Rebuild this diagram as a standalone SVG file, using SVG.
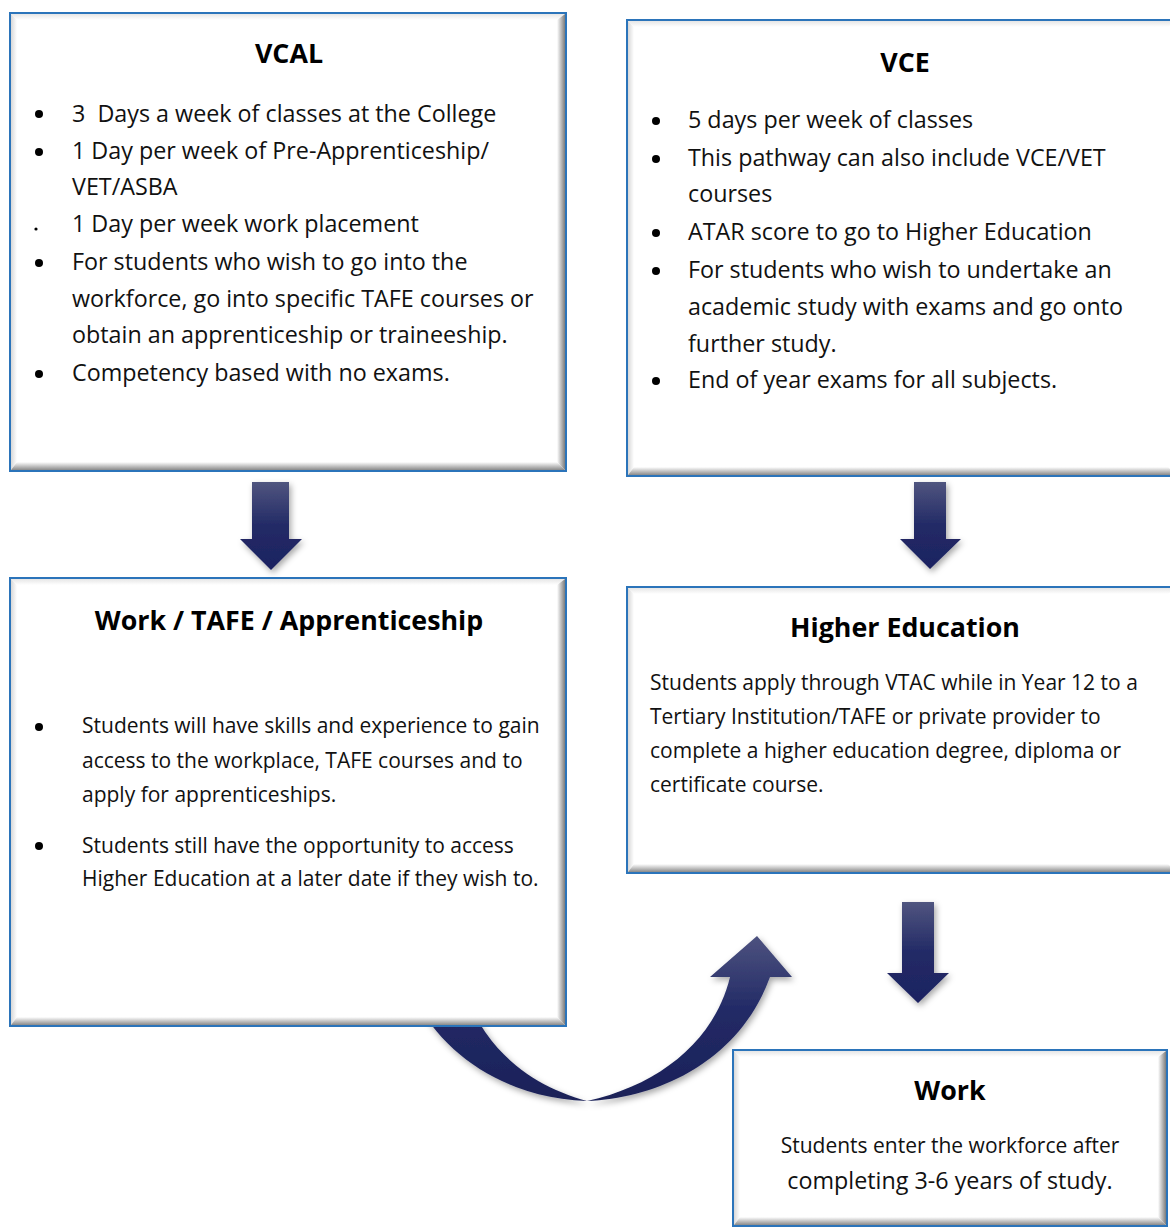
<svg xmlns="http://www.w3.org/2000/svg" width="1170" height="1227" viewBox="0 0 1170 1227">
<defs>
<style>
.box{fill:#ffffff;stroke:#2b74ba;stroke-width:2}
.bb{fill:url(#bevB)}.br{fill:url(#bevR)}.bl{fill:url(#bevL)}.bt{fill:url(#bevT)}
.t{font-family:"Open Sans","Liberation Sans",sans-serif;font-size:23.3px;fill:#111}
.s{font-size:21px}
.h{font-family:"Open Sans","Liberation Sans",sans-serif;font-size:26.8px;font-weight:bold;fill:#000;text-anchor:middle}
.dot{fill:#000}
.arr{fill:url(#arrG);filter:url(#sh)}
</style>
<linearGradient id="bevB" x1="0" y1="0" x2="0" y2="1"><stop offset="0" stop-color="#ffffff"/><stop offset="1" stop-color="#8a8a8a"/></linearGradient>
<linearGradient id="bevR" x1="0" y1="0" x2="1" y2="0"><stop offset="0" stop-color="#ffffff"/><stop offset="1" stop-color="#7c7c7c"/></linearGradient>
<linearGradient id="bevL" x1="0" y1="0" x2="1" y2="0"><stop offset="0" stop-color="#d8d8d8"/><stop offset="1" stop-color="#ffffff"/></linearGradient>
<linearGradient id="bevT" x1="0" y1="0" x2="0" y2="1"><stop offset="0" stop-color="#e6e6e6"/><stop offset="1" stop-color="#ffffff"/></linearGradient>
<linearGradient id="arrG" x1="0" y1="0" x2="0" y2="1"><stop offset="0" stop-color="#50557f"/><stop offset="0.5" stop-color="#222a66"/><stop offset="1" stop-color="#1d2361"/></linearGradient>
<linearGradient id="curG" gradientUnits="userSpaceOnUse" x1="0" y1="936" x2="0" y2="1101"><stop offset="0" stop-color="#4d527f"/><stop offset="0.45" stop-color="#222a66"/><stop offset="1" stop-color="#1b2158"/></linearGradient>
<filter id="sh" x="-30%" y="-30%" width="160%" height="160%"><feDropShadow dx="2" dy="3" stdDeviation="3" flood-color="#000" flood-opacity="0.35"/></filter>
</defs>
<rect width="1170" height="1227" fill="#ffffff"/>

<g id="connectors">
<path class="arr" d="M252,482 H289 V539 H302 L271,570 L240,539 H252 Z"/>
<path class="arr" d="M914,482 H946 V539 H961 L930,569 L900,539 H914 Z"/>
<path class="arr" d="M902,902 H934 V973 H949 L918,1003 L887,973 H902 Z"/>
<path fill="url(#curG)" filter="url(#sh)" d="M418,1005 C450,1060 510,1098 587,1101 C660,1098 740,1060 770,977 L792,977 L757,936 L710,977 L730,977 C715,1040 660,1085 587,1101 C540,1088 495,1060 470,1005 Z"/>
</g>

<g id="vcal">
<rect class="box" x="10" y="13" width="556" height="458"/>
<polygon class="bt" points="11,14 565,14 557,20 17,20"/>
<polygon class="bl" points="11,14 17,20 17,462 11,470"/>
<polygon class="bb" points="11,470 565,470 557,462 17,462"/>
<polygon class="br" points="565,14 565,470 557,462 557,20"/>
<text class="h" x="289" y="63">VCAL</text>
<circle class="dot" cx="39" cy="114" r="4"/>
<text class="t" x="72" y="122" xml:space="preserve">3  Days a week of classes at the College</text>
<circle class="dot" cx="39" cy="152" r="4"/>
<text class="t" x="72" y="159">1 Day per week of Pre-Apprenticeship/</text>
<text class="t" x="72" y="195">VET/ASBA</text>
<circle class="dot" cx="36" cy="229" r="1.6"/>
<text class="t" x="72" y="232">1 Day per week work placement</text>
<circle class="dot" cx="39" cy="263" r="4"/>
<text class="t" x="72" y="270">For students who wish to go into the</text>
<text class="t" x="72" y="307">workforce, go into specific TAFE courses or</text>
<text class="t" x="72" y="343">obtain an apprenticeship or traineeship.</text>
<circle class="dot" cx="39" cy="374" r="4"/>
<text class="t" x="72" y="381">Competency based with no exams.</text>
</g>

<g id="vce">
<rect class="box" x="627" y="20" width="550" height="456"/>
<polygon class="bt" points="628,21 1176,21 1168,27 634,27"/>
<polygon class="bl" points="628,21 634,27 634,467 628,475"/>
<polygon class="bb" points="628,475 1176,475 1168,467 634,467"/>
<text class="h" x="905" y="72">VCE</text>
<circle class="dot" cx="656" cy="121" r="4"/>
<text class="t" x="688" y="128">5 days per week of classes</text>
<circle class="dot" cx="656" cy="159" r="4"/>
<text class="t" x="688" y="166">This pathway can also include VCE/VET</text>
<text class="t" x="688" y="202">courses</text>
<circle class="dot" cx="656" cy="233" r="4"/>
<text class="t" x="688" y="240">ATAR score to go to Higher Education</text>
<circle class="dot" cx="656" cy="271" r="4"/>
<text class="t" x="688" y="278">For students who wish to undertake an</text>
<text class="t" x="688" y="315">academic study with exams and go onto</text>
<text class="t" x="688" y="352">further study.</text>
<circle class="dot" cx="656" cy="381" r="4"/>
<text class="t" x="688" y="388">End of year exams for all subjects.</text>
</g>

<g id="work-tafe">
<rect class="box" x="10" y="578" width="556" height="448"/>
<polygon class="bt" points="11,579 565,579 557,585 17,585"/>
<polygon class="bl" points="11,579 17,585 17,1017 11,1025"/>
<polygon class="bb" points="11,1025 565,1025 557,1017 17,1017"/>
<polygon class="br" points="565,579 565,1025 557,1017 557,585"/>
<text class="h" x="289" y="630">Work / TAFE / Apprenticeship</text>
<circle class="dot" cx="39" cy="727" r="4"/>
<text class="t s" x="82" y="733">Students will have skills and experience to gain</text>
<text class="t s" x="82" y="768">access to the workplace, TAFE courses and to</text>
<text class="t s" x="82" y="802">apply for apprenticeships.</text>
<circle class="dot" cx="39" cy="846" r="4"/>
<text class="t s" x="82" y="853">Students still have the opportunity to access</text>
<text class="t s" x="82" y="886">Higher Education at a later date if they wish to.</text>
</g>

<g id="higher-education">
<rect class="box" x="627" y="587" width="550" height="286"/>
<polygon class="bt" points="628,588 1176,588 1168,594 634,594"/>
<polygon class="bl" points="628,588 634,594 634,864 628,872"/>
<polygon class="bb" points="628,872 1176,872 1168,864 634,864"/>
<text class="h" x="905" y="637">Higher Education</text>
<text class="t s" x="650" y="690">Students apply through VTAC while in Year 12 to a</text>
<text class="t s" x="650" y="724">Tertiary Institution/TAFE or private provider to</text>
<text class="t s" x="650" y="758">complete a higher education degree, diploma or</text>
<text class="t s" x="650" y="792">certificate course.</text>
</g>

<g id="work">
<rect class="box" x="733" y="1050" width="434" height="176"/>
<polygon class="bt" points="734,1051 1166,1051 1158,1057 740,1057"/>
<polygon class="bl" points="734,1051 740,1057 740,1217 734,1225"/>
<polygon class="bb" points="734,1225 1166,1225 1158,1217 740,1217"/>
<polygon class="br" points="1166,1051 1166,1225 1158,1217 1158,1057"/>
<text class="h" x="950" y="1100">Work</text>
<text class="t s" x="950" y="1153" style="text-anchor:middle">Students enter the workforce after</text>
<text class="t" x="950" y="1189" style="text-anchor:middle">completing 3-6 years of study.</text>
</g>
</svg>
